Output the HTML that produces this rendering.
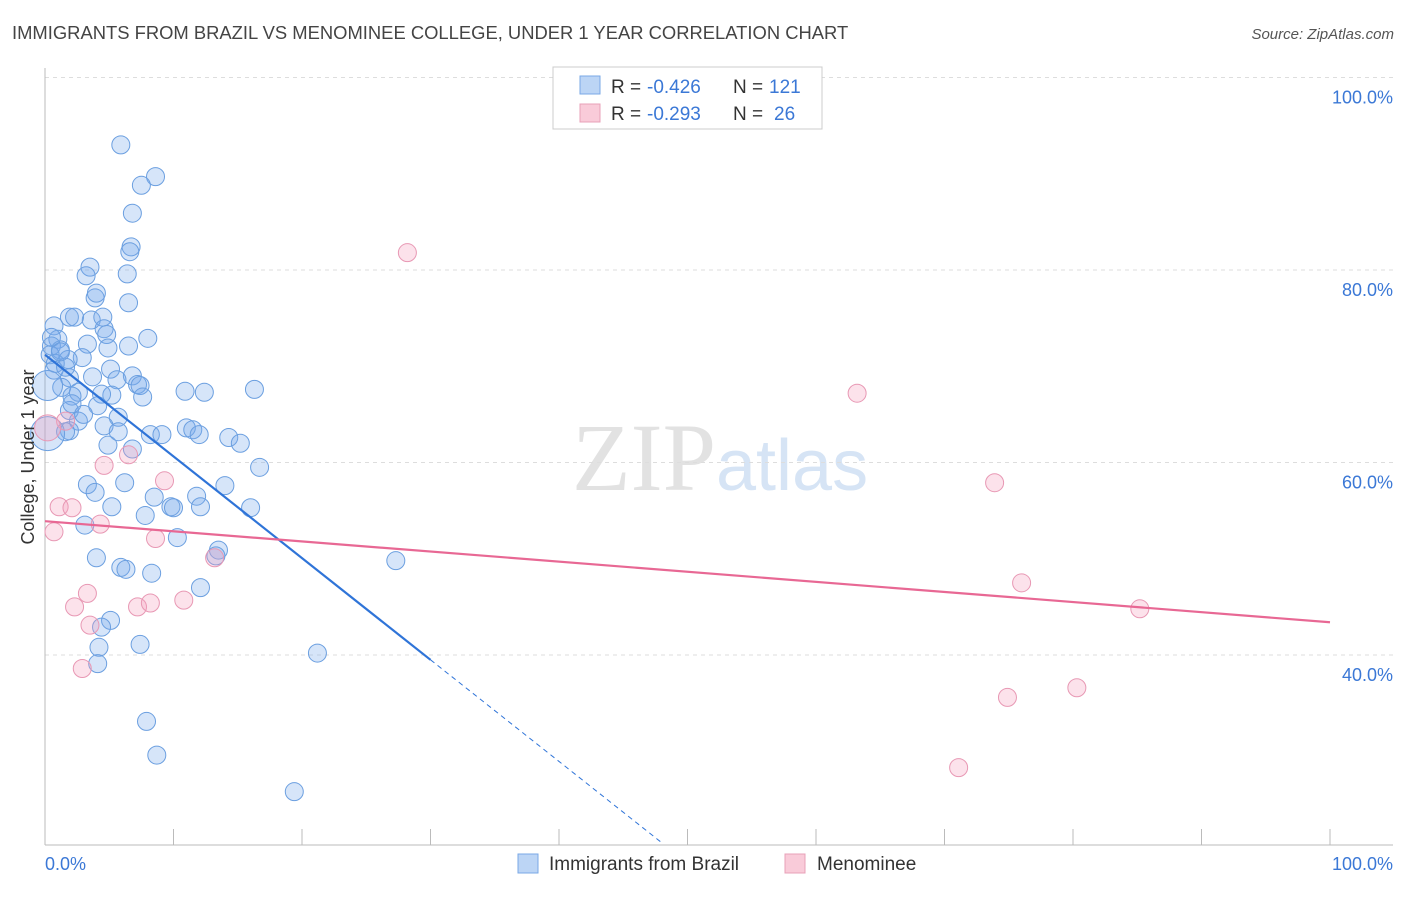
<!DOCTYPE html>
<html><head><meta charset="utf-8"><style>
body{margin:0;background:#fff;font-family:"Liberation Sans",sans-serif;}
</style></head><body>
<svg id="chart" width="1406" height="892" xmlns="http://www.w3.org/2000/svg">
<text x="12" y="39" font-size="18.4" fill="#444">IMMIGRANTS FROM BRAZIL VS MENOMINEE COLLEGE, UNDER 1 YEAR CORRELATION CHART</text>
<text x="1394" y="39" font-size="15" fill="#555" font-style="italic" text-anchor="end">Source: ZipAtlas.com</text>
<text x="716" y="490" font-size="96" fill="#e2e2e2" text-anchor="end" font-family="Liberation Serif,serif">ZIP</text>
<text x="716" y="490" font-size="72" fill="#d6e4f5">atlas</text>
<g id="grid"></g>
<g id="axes"></g>
<g id="marks"></g>
<text transform="translate(34,457) rotate(-90)" font-size="18" fill="#333" text-anchor="middle">College, Under 1 year</text>
<text x="45" y="870" font-size="18" fill="#3b78d6">0.0%</text>
<text x="1393" y="870" font-size="18" fill="#3b78d6" text-anchor="end">100.0%</text>
<g>
<rect x="553" y="67" width="269" height="62" fill="#fff" stroke="#ccc"/>
<rect x="580" y="76" width="20" height="18" fill="#bcd5f5" stroke="#7aa8e6"/>
<rect x="580" y="104" width="20" height="18" fill="#f9cbd9" stroke="#e8a0b8"/>
<text x="611" y="93" font-size="19" fill="#333">R =</text>
<text x="647" y="93" font-size="19" fill="#3b78d6">-0.426</text>
<text x="733" y="93" font-size="19" fill="#333">N =</text>
<text x="769" y="93" font-size="19" fill="#3b78d6">121</text>
<text x="611" y="120" font-size="19" fill="#333">R =</text>
<text x="647" y="120" font-size="19" fill="#3b78d6">-0.293</text>
<text x="733" y="120" font-size="19" fill="#333">N =</text>
<text x="774" y="120" font-size="19" fill="#3b78d6">26</text>
</g>
<g>
<rect x="518" y="854" width="20" height="19" fill="#bcd5f5" stroke="#7aa8e6"/>
<text x="549" y="870" font-size="19" fill="#333">Immigrants from Brazil</text>
<rect x="785" y="854" width="20" height="19" fill="#f9cbd9" stroke="#e8a0b8"/>
<text x="817" y="870" font-size="19" fill="#333">Menominee</text>
</g>
</svg>
<script>
const yTicks=[40,60,80,100];
const yTickLabels=["40.0%","60.0%","80.0%","100.0%"];
const xTicks=[0,10,20,30,40,50,60,70,80,90,100];
const brazilX=[5.9,8.6,7.5,6.8,6.7,6.6,6.4,3.5,3.2,3.9,4.0,6.5,1.9,2.3,0.7,3.6,4.5,4.6,4.8,8.0,1.0,3.3,0.5,4.9,6.5,1.2,0.4,2.9,1.8,0.8,5.1,6.8,3.7,1.9,5.6,7.2,7.4,1.3,10.9,12.4,16.3,2.6,5.2,7.6,4.4,2.1,4.1,1.9,5.7,2.6,11.0,11.5,12.0,8.2,9.1,1.9,4.6,14.3,15.2,4.9,5.7,6.8,16.7,6.2,14.0,3.3,3.9,8.5,11.8,5.2,9.8,10.0,12.1,16.0,7.8,3.1,10.3,13.5,13.3,4.0,27.3,5.9,6.3,8.3,12.1,5.1,4.4,7.4,4.2,21.2,4.1,7.9,8.7,19.4,0.7,1.6,2.1,3.0,1.6,0.2,0.2,0.5,1.2];
const brazilY=[93.0,89.7,88.8,85.9,82.4,81.9,79.6,80.3,79.4,77.1,77.6,76.6,75.1,75.1,74.2,74.8,75.1,73.9,73.3,72.9,72.8,72.3,72.1,71.9,72.1,71.7,71.2,70.9,70.7,70.3,69.7,69.0,68.9,68.8,68.6,68.1,68.0,67.8,67.4,67.3,67.6,67.3,67.0,66.8,67.1,66.9,65.9,65.4,64.7,64.3,63.6,63.4,62.9,62.9,62.9,63.3,63.8,62.6,62.0,61.8,63.2,61.4,59.5,57.9,57.6,57.7,56.9,56.4,56.5,55.4,55.4,55.3,55.4,55.3,54.5,53.5,52.2,50.9,50.3,50.1,49.8,49.1,48.9,48.5,47.0,43.6,42.9,41.1,40.8,40.2,39.1,33.1,29.6,25.8,69.6,69.9,66.1,65.0,63.2,68.0,63.0,73.0,71.5];
const brazilR=[9,9,9,9,9,9,9,9,9,9,9,9,9,9,9,9,9,9,9,9,9,9,9,9,9,9,9,9,9,9,9,9,9,9,9,9,9,9,9,9,9,9,9,9,9,9,9,9,9,9,9,9,9,9,9,9,9,9,9,9,9,9,9,9,9,9,9,9,9,9,9,9,9,9,9,9,9,9,9,9,9,9,9,9,9,9,9,9,9,9,9,9,9,9,9,9,9,9,9,15,17,9,9];
const menX=[28.2,63.2,73.9,76.0,85.2,80.3,74.9,71.1,4.6,6.5,9.3,1.1,2.1,4.3,0.7,8.6,13.2,3.3,2.3,7.2,8.2,10.8,3.5,2.9,1.6,0.2];
const menY=[81.8,67.2,57.9,47.5,44.8,36.6,35.6,28.3,59.7,60.8,58.1,55.4,55.3,53.6,52.8,52.1,50.1,46.4,45.0,45.0,45.4,45.7,43.1,38.6,64.3,63.6];
const brazilLine=[0,71.2,30,39.5];const brazilDash=[30,39.5,47.9,20.6];
const menLine=[0,53.9,100,43.4];
const NS="http://www.w3.org/2000/svg";
const X0=45,X1=1330,Y0=1040,PX=9.625;
const sx=v=>X0+(X1-X0)*v/100, sy=v=>Y0-v*PX;
function mk(t,a,p){const e=document.createElementNS(NS,t);for(const k in a)e.setAttribute(k,a[k]);document.getElementById(p).appendChild(e);return e;}
yTicks.forEach((t,i)=>{
 const g=mk('line',{x1:45,x2:1393,y1:sy(t),y2:sy(t),stroke:'#ddd','stroke-dasharray':'4,4'},'grid');
 
 
 const l=mk('text',{x:1393,y:sy(t)+26,'font-size':18,fill:'#3b78d6','text-anchor':'end'},'grid');l.textContent=yTickLabels[i];
 
 
});
const ax=mk('line',{x1:45,x2:45,y1:68,y2:845,stroke:'#bbb'},'axes');


const bx=mk('line',{x1:45,x2:1393,y1:845,y2:845,stroke:'#bbb'},'axes');


xTicks.forEach(t=>{const k=mk('line',{x1:sx(t),x2:sx(t),y1:829,y2:845,stroke:'#bbb'},'axes');
 
 });
brazilX.forEach((x,i)=>{const c=mk('circle',{cx:sx(x),cy:sy(brazilY[i]),r:brazilR[i],fill:'rgba(120,170,235,0.3)',stroke:'#6b9fe0','stroke-width':1},'marks');
 
 });
menX.forEach((x,i)=>{const c=mk('circle',{cx:sx(x),cy:sy(menY[i]),r:(i==25?13:9),fill:'rgba(245,160,190,0.3)',stroke:'#e898b4','stroke-width':1},'marks');
 
 });
let l1=mk('line',{x1:sx(brazilLine[0]),y1:sy(brazilLine[1]),x2:sx(brazilLine[2]),y2:sy(brazilLine[3]),stroke:'#2f74d8','stroke-width':2.2},'marks');


let l2=mk('line',{x1:sx(brazilDash[0]),y1:sy(brazilDash[1]),x2:sx(brazilDash[2]),y2:sy(brazilDash[3]),stroke:'#2f74d8','stroke-width':1,'stroke-dasharray':'5,4'},'marks');


let l3=mk('line',{x1:sx(menLine[0]),y1:sy(menLine[1]),x2:sx(menLine[2]),y2:sy(menLine[3]),stroke:'#e86894','stroke-width':2.2},'marks');


</script>
</body></html>
